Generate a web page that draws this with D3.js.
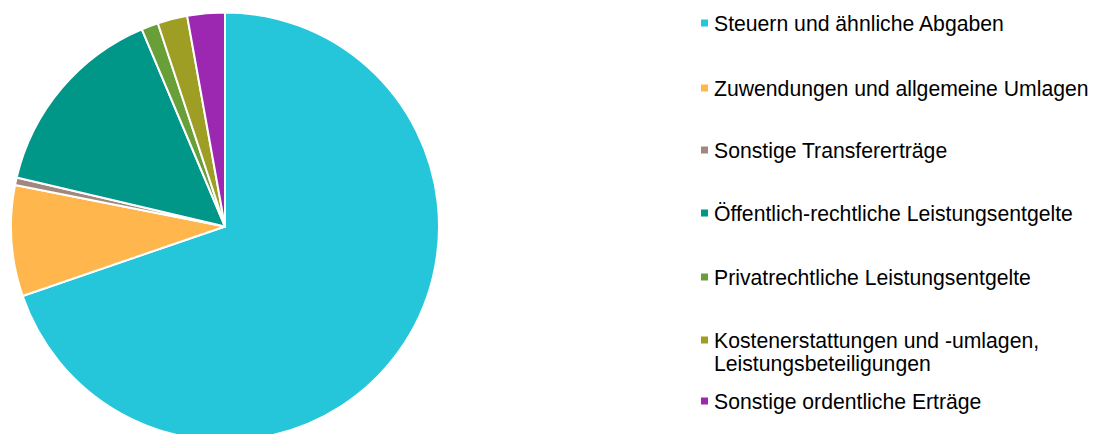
<!DOCTYPE html>
<html>
<head>
<meta charset="utf-8">
<script src="https://cdn.jsdelivr.net/npm/d3@7"></script>
<style>
  html, body { margin: 0; padding: 0; background: #fff; }
  svg { display: block; }
  text { font-family: "Liberation Sans", Arial, sans-serif; fill: #000; }
</style>
</head>
<body>
<svg id="chart" width="1107" height="434"></svg>
<script>
// ---- data (shares in percent) ----
const categories = [
  "Steuern und ähnliche Abgaben",
  "Zuwendungen und allgemeine Umlagen",
  "Sonstige Transfererträge",
  "Öffentlich-rechtliche Leistungsentgelte",
  "Privatrechtliche Leistungsentgelte",
  "Kostenerstattungen und -umlagen, Leistungsbeteiligungen",
  "Sonstige ordentliche Erträge"
];
const legendLines = [
  ["Steuern und ähnliche Abgaben"],
  ["Zuwendungen und allgemeine Umlagen"],
  ["Sonstige Transfererträge"],
  ["Öffentlich-rechtliche Leistungsentgelte"],
  ["Privatrechtliche Leistungsentgelte"],
  ["Kostenerstattungen und -umlagen,", "Leistungsbeteiligungen"],
  ["Sonstige ordentliche Erträge"]
];
const values = [69.74, 8.36, 0.57, 14.98, 1.27, 2.25, 2.83];
const colors = ["#26C6DA", "#FFB74D", "#A1887F", "#009688", "#689F38", "#9E9D24", "#9C27B0"];

// ---- layout ----
const cx = 225, cy = 226.5, radius = 214;
const legendX = 701, legendTextX = 714;
const legendBaselines = [31, 96, 158, 221, 285, 348, 409];
const lineHeight = 23;
const fontSize = 21.2;

const svg = d3.select("#chart");
const data = categories.map((c, i) => ({ name: c, value: values[i], color: colors[i], lines: legendLines[i] }));

const pie = d3.pie().sort(null).value(d => d.value);
const arc = d3.arc().innerRadius(0).outerRadius(radius);

svg.append("g")
  .attr("transform", `translate(${cx},${cy})`)
  .selectAll("path")
  .data(pie(data))
  .join("path")
  .attr("d", arc)
  .attr("fill", d => d.data.color)
  .attr("stroke", "#fff")
  .attr("stroke-width", 2)
  .attr("stroke-linejoin", "round");

const legend = svg.append("g");
const items = legend.selectAll("g.item")
  .data(data)
  .join("g")
  .attr("class", "item")
  .attr("transform", (d, i) => `translate(0,${legendBaselines[i]})`);

items.append("rect")
  .attr("x", legendX)
  .attr("y", -11.5)
  .attr("width", 7)
  .attr("height", 7)
  .attr("fill", d => d.color);

items.append("text")
  .attr("x", legendTextX)
  .attr("y", 0)
  .style("font-size", fontSize + "px")
  .selectAll("tspan")
  .data(d => d.lines)
  .join("tspan")
  .attr("x", legendTextX)
  .attr("dy", (l, j) => j === 0 ? 0 : lineHeight)
  .text(l => l);
</script>
</body>
</html>
